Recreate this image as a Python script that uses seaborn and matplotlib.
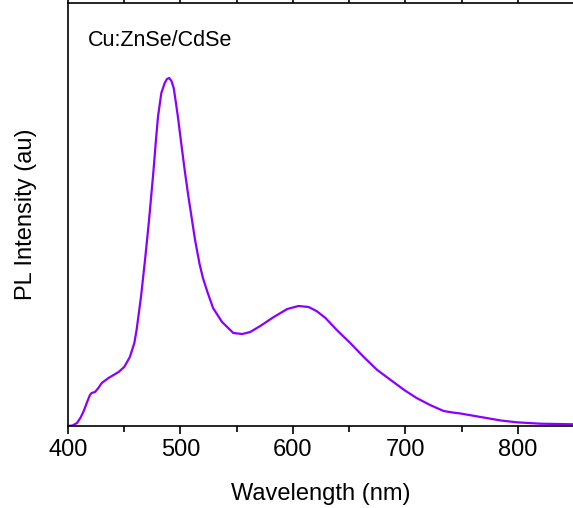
import matplotlib
matplotlib.use("Agg")
import matplotlib.pyplot as plt
import seaborn as sns
import pandas as pd
from matplotlib.ticker import MultipleLocator

wavelength = [400, 404, 408, 411, 414, 417, 419.5, 421, 424, 427, 430, 436, 445, 450, 455, 459, 461,
              465, 468.5, 472, 474, 476, 478, 480, 483, 486, 488, 490, 492, 494, 496, 498,
              501, 504, 507, 510, 513, 517, 520, 524, 529, 537, 547, 555, 562, 571, 583,
              595, 605, 614, 621, 629, 639, 651, 663, 675, 687, 699, 710, 722, 734, 742,
              749, 767, 785, 799, 820, 850]
intensity = [0, 0.5, 3, 8, 15, 24, 31, 33, 34, 38, 43, 48, 54, 59, 69, 83, 96,
             130, 166, 205, 230, 255, 283, 309, 333, 343, 347, 348, 345, 338, 323, 307,
             280, 254, 230, 208, 186, 162, 148, 134, 118, 104, 93, 92, 94, 100, 109,
             117, 120, 119, 115, 108, 96, 83, 69, 56, 46, 36, 28, 21, 15, 13.5,
             12.5, 9, 5.5, 3.7, 2.3, 1.7]
sample_label = "Cu:ZnSe/CdSe"

sns.set_theme(style="ticks")
plt.rcParams['font.family'] = ['Liberation Sans', 'DejaVu Sans']

df = pd.DataFrame({"Wavelength (nm)": wavelength, "PL Intensity (au)": intensity})

fig = plt.figure(figsize=(5.73, 5.08), dpi=100)
ax = fig.add_axes([68/573, 82/508, (574-68)/573, 423/508])
sns.lineplot(data=df, x="Wavelength (nm)", y="PL Intensity (au)", ax=ax,
             color="#8a00ff", linewidth=1.6)
for ln in ax.get_lines():
    ln.set_solid_joinstyle('round')
ax.set_xlim(400, 850)
ax.set_ylim(0, 423)
ax.set_yticks([])
ax.xaxis.set_major_locator(MultipleLocator(100))
ax.xaxis.set_minor_locator(MultipleLocator(50))
ax.tick_params(axis='x', which='major', direction='out', length=6, width=1.2,
               labelsize=17, pad=3, colors='black', labelcolor='black')
ax.tick_params(axis='x', which='minor', direction='out', length=4, width=1.2, colors='black')
ax.tick_params(axis='x', which='both', top=True)
ax.set_xlabel("Wavelength (nm)", fontsize=17, labelpad=16, color='black')
ax.set_ylabel("PL Intensity (au)", fontsize=17, labelpad=22, color='black')
for s in ax.spines.values():
    s.set_linewidth(1.2)
    s.set_color('black')
fig.text(88/573, 1 - 40/508, sample_label, fontsize=15.5, va='center', ha='left', color='black')

fig.savefig("out.png", dpi=100)
